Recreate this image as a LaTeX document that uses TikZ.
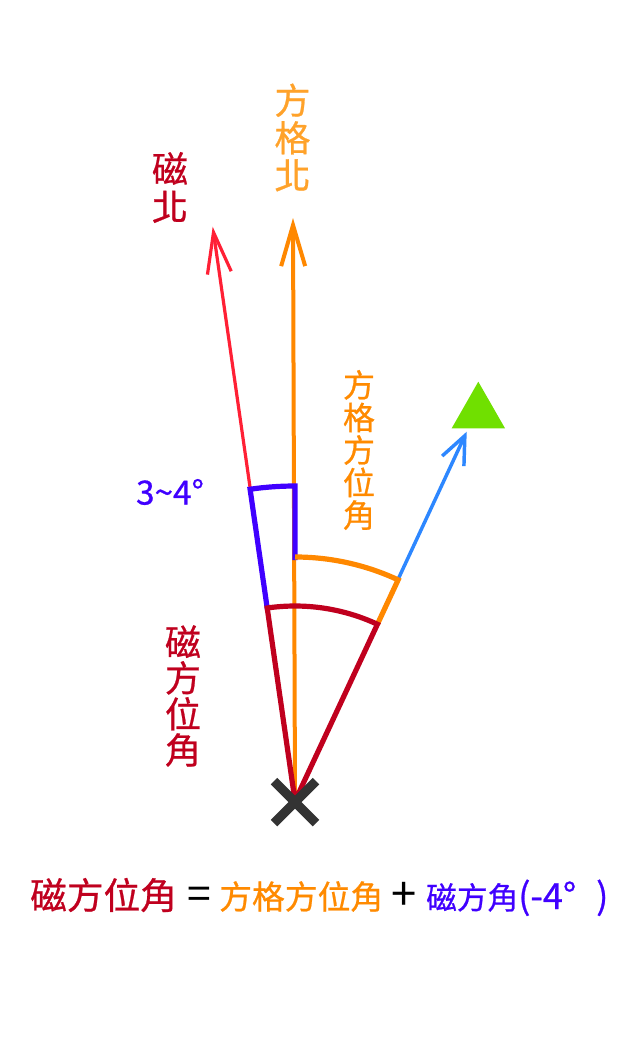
\documentclass[tikz,border=0pt]{standalone}
\usepackage{fontspec}
\setmainfont{Noto Sans CJK TC}[FakeBold=0.7]
\newfontfamily\plainfont{Noto Sans CJK TC}
\usetikzlibrary{arrows.meta}
\definecolor{darkred}{HTML}{C0001E}
\definecolor{redline}{HTML}{FF2035}
\definecolor{orangeline}{HTML}{FF8800}
\definecolor{orangetext}{HTML}{FF8A00}
\definecolor{orangelight}{HTML}{FFA22A}
\definecolor{angleblue}{HTML}{4000FF}
\definecolor{targetblue}{HTML}{2D87FF}
\definecolor{targetgreen}{HTML}{70E000}
\definecolor{xgray}{HTML}{333333}
\begin{document}
\begin{tikzpicture}[x=0.75pt,y=-0.75pt,
  barb/.style={-{Straight Barb[length=30.75pt,width=18pt]}},
  shortbarb/.style={-{Straight Barb[length=21pt,width=18pt]}},
  mnline/.style={draw=redline,line width=2.4pt,barb},
  gnline/.style={draw=orangeline,line width=3pt,barb},
  tgline/.style={draw=targetblue,line width=2.6pt,shortbarb},
  anglemark/.style={draw=angleblue,line width=3.9pt},
  gridmark/.style={draw=orangeline,line width=3.9pt},
  magmark/.style={draw=darkred,line width=3.9pt},
  xmark/.style={draw=xgray,line width=6.9pt},
  vlabel/.style={inner sep=0pt,align=center},
  eqtext/.style={inner sep=0pt,anchor=base west}]
\path[fill=white,use as bounding box] (0,0) rectangle (628,1042);
% directions
\coordinate (O) at (295,801);
\coordinate (mn) at (212.7,226.7);
\coordinate (gn) at (293,218);
\coordinate (tg) at (466.7,431.7);
% target
\fill[targetgreen] (478.3,381.7) -- (451.7,428.3) -- (505,428.3) -- cycle;
% main lines
\draw[mnline] (O) -- (mn);
\draw[gnline] (O) -- (gn);
\draw[tgline] (O) -- (tg);
% angle markers
\draw[anglemark] (O) ++(261.8:194) -- ++(261.8:121)
  arc[start angle=261.8,end angle=270,radius=315] -- ++(0,74);
\draw[gridmark] (O) ++(270:244) arc[start angle=270,end angle=295,radius=244] -- ++(115:49);
\draw[magmark] (O) -- ++(261.8:195) arc[start angle=261.8,end angle=295,radius=195] -- (O);
% X mark
\draw[xmark] (274,781) -- (316,823);
\draw[xmark] (316,781) -- (274,823);
% labels
\node[vlabel,text=darkred,font=\fontsize{27}{28.5}\selectfont] (lmn) at (170,187.5) {磁\\北};
\node[vlabel,text=orangelight,font=\fontsize{27}{28.1}\selectfont] (lgn) at (292.5,137.5) {方\\格\\北};
\node[vlabel,text=orangetext,font=\fontsize{24}{24.4}\selectfont] (lga) at (359,450) {方\\格\\方\\位\\角};
\node[vlabel,text=darkred,font=\fontsize{27}{27}\selectfont] (lma) at (183,696) {磁\\方\\位\\角};
\node[inner sep=0pt,text=angleblue,font=\fontsize{25}{28}\selectfont] (ldec) at (170,492) {3\textasciitilde4°};
% equation
\node[eqtext,text=darkred,font=\fontsize{27.5}{30}\selectfont] (eq1) at (30,909) {磁方位角};
\node[inner sep=0pt,anchor=base,font=\plainfont\fontsize{32}{30}\selectfont] (eqs) at (199,909) {=};
\node[eqtext,text=orangetext,font=\fontsize{24.6}{30}\selectfont] (eq2) at (219,909) {方格方位角};
\node[inner sep=0pt,anchor=base,font=\plainfont\fontsize{34}{30}\selectfont] (eqp) at (404,910) {+};
\node[eqtext,text=angleblue,font=\fontsize{23}{30}\selectfont] (eq3) at (426,909) {磁方角{\fontsize{27}{30}\selectfont(-4°\hspace{15pt})}};
\end{tikzpicture}
\end{document}
